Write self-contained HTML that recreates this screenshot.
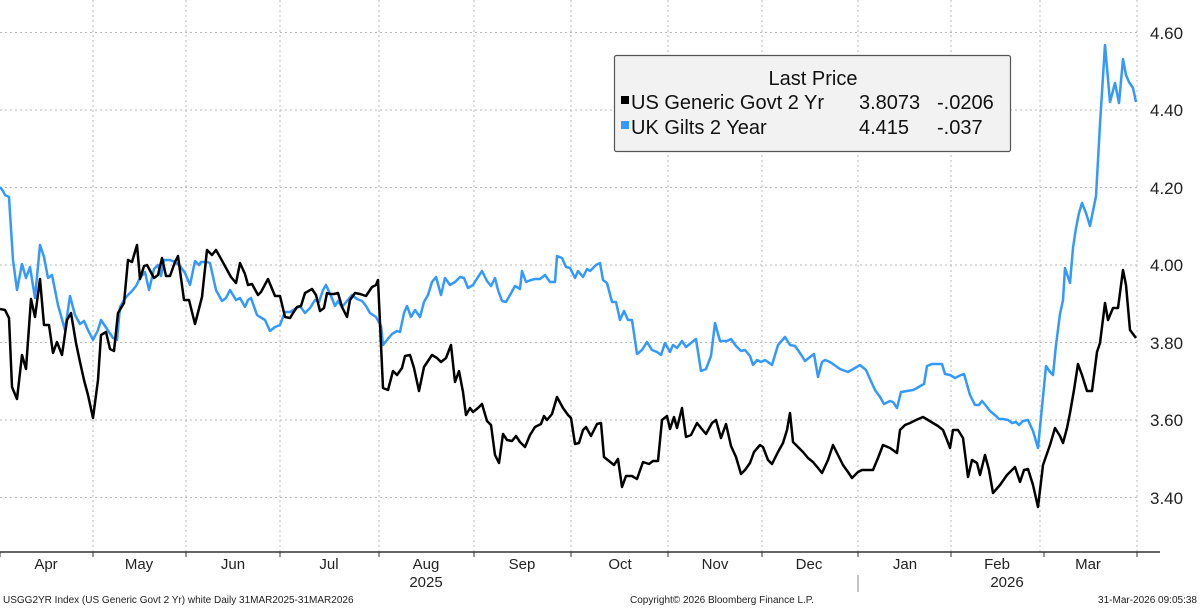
<!DOCTYPE html><html><head><meta charset="utf-8"><style>body{margin:0;background:#fff;width:1200px;height:608px;overflow:hidden}svg{display:block}text{font-family:"Liberation Sans","DejaVu Sans",sans-serif}</style></head><body>
<svg width="1200" height="608" viewBox="0 0 1200 608" xmlns="http://www.w3.org/2000/svg">
<g stroke="#b8b8b8" stroke-width="1" stroke-dasharray="2,3" fill="none">
<path d="M0 32.5H1140M0 110H1140M0 187.5H1140M0 265H1140M0 342.5H1140M0 420H1140M0 497.5H1140"/>
<path d="M93 0V552M186 0V552M280 0V552M379 0V552M474 0V552M571 0V552M668 0V552M762 0V552M858 0V552M951 0V552M1040 0V552M1137 0V552"/>
</g>
<path d="M0 552H1160" stroke="#333" stroke-width="1.5"/>
<path d="M0 552v5M93 552v5M186 552v5M280 552v5M379 552v5M474 552v5M571 552v5M668 552v5M762 552v5M858 552v5M951 552v5M1044 552v5M1137 552v5" stroke="#333" stroke-width="1"/>
<path d="M858 575V592" stroke="#888"/>
<g font-size="17" fill="#222">
<text x="1150" y="39">4.60</text><text x="1150" y="116">4.40</text><text x="1150" y="194">4.20</text><text x="1150" y="271">4.00</text><text x="1150" y="349">3.80</text><text x="1150" y="426">3.60</text><text x="1150" y="504">3.40</text>
</g>
<g font-size="15" fill="#222" text-anchor="middle">
<text x="46" y="569">Apr</text><text x="139" y="569">May</text><text x="233" y="569">Jun</text><text x="329" y="569">Jul</text><text x="426" y="569">Aug</text><text x="522" y="569">Sep</text><text x="620" y="569">Oct</text><text x="715" y="569">Nov</text><text x="809" y="569">Dec</text><text x="905" y="569">Jan</text><text x="997" y="569">Feb</text><text x="1088" y="569">Mar</text>
<text x="426" y="587">2025</text><text x="1007" y="587">2026</text>
</g>
<g font-size="10" fill="#222">
<text x="3" y="603">USGG2YR Index (US Generic Govt 2 Yr) white Daily 31MAR2025-31MAR2026</text>
<text x="630" y="603">Copyright© 2026 Bloomberg Finance L.P.</text>
<text x="1197" y="603" text-anchor="end">31-Mar-2026 09:05:38</text>
</g>
<polyline fill="none" stroke="#3399ff" stroke-width="2.5" stroke-linejoin="round" points="0,187 3,191 5,195 9,197 13,260 17,290 22,264 26,278 30,267 35,298 40,245 44,257 48,278 52,275 58,305 65,330 70,296 75,315 80,324 84,321 88,330 93,340 98,330 101,320 107,329 113,338 117,340 120,307 124,300 127,296 132,291 136,286 140,278 145,272 149,290 154,269 158,265 161,276 164,260 170,260 175,262 180,266 185,273 190,285 195,261 199,265 201,262 207,262 210,263 216,290 222,301 226,298 230,290 236,300 240,298 245,307 248,300 251,298 257,315 260,317 265,320 270,331 275,327 280,325 285,312 290,312 295,309 300,306 305,313 310,308 315,300 319,302 323,290 326,285 331,296 335,306 338,301 342,307 347,301 352,295 357,299 362,301 366,306 370,313 376,317 381,326 383,345 387,340 392,334 397,331 400,332 404,313 407,306 411,317 415,310 420,317 424,302 428,295 432,282 436,277 441,295 445,278 450,285 455,282 460,277 464,278 468,288 473,285 478,277 482,271 487,281 491,286 495,278 498,290 502,301 506,302 510,295 515,286 520,289 522,271 526,282 531,280 535,279 540,279 545,275 550,282 555,282 557,256 562,258 566,267 570,268 575,278 578,271 583,277 587,269 590,271 596,265 600,263 603,280 607,283 612,302 616,302 620,320 624,311 628,320 632,320 637,354 642,350 647,342 652,350 657,352 661,355 665,343 670,352 673,345 677,348 682,341 686,347 691,343 696,339 701,371 706,369 711,356 715,323 720,341 727,341 731,339 736,346 741,351 745,350 750,356 753,365 757,360 761,362 765,360 768,362 772,365 778,345 785,337 790,345 795,346 800,353 805,361 810,357 814,354 818,377 822,362 825,360 830,362 840,369 848,372 855,368 860,365 866,370 870,379 875,390 880,397 884,404 890,401 893,402 897,408 901,392 907,391 913,390 917,388 922,385 924,384 927,366 932,364 942,364 945,374 950,375 955,378 961,375 964,374 970,395 975,405 979,405 982,401 987,407 990,411 996,416 999,419 1003,419 1008,420 1012,423 1016,422 1019,425 1023,421 1028,420 1033,431 1038,448 1046,366 1050,372 1053,375 1056,345 1060,314 1063,300 1065,268 1070,283 1073,248 1076,228 1079,213 1082,203 1086,213 1090,226 1096,196 1100,124 1105,45 1110,102 1115,83 1119,103 1123,59 1126,75 1129,82 1133,88 1136,102"/>
<polyline fill="none" stroke="#000" stroke-width="2.5" stroke-linejoin="round" points="0,309 5,310 9,318 12,387 17,399 22,355 26,369 31,299 35,317 40,279 44,325 49,325 53,353 57,342 62,355 67,320 71,313 76,343 80,362 84,380 88,395 93,418 98,380 101,335 106,332 110,349 114,351 118,313 124,303 128,260 132,262 137,245 140,279 144,266 147,265 154,278 158,275 162,258 166,276 170,276 175,262 178,256 184,300 189,300 195,324 202,297 207,250 212,255 216,250 220,257 226,268 231,277 236,283 240,263 245,274 248,285 252,284 258,295 261,292 268,279 275,296 280,296 285,317 290,318 293,313 297,307 301,306 305,293 312,289 316,295 320,311 324,308 327,293 330,294 334,294 338,293 342,307 347,317 350,300 355,293 360,294 366,296 372,287 376,285 378,280 383,388 388,390 393,371 397,375 402,368 405,356 410,355 414,368 419,391 424,367 432,355 437,358 441,362 446,358 451,345 455,382 459,371 463,392 466,415 470,408 473,412 478,408 482,404 487,421 491,425 495,455 499,463 503,434 507,440 512,441 516,436 520,442 525,447 530,435 535,427 541,424 544,416 547,420 552,414 557,397 563,408 568,415 571,418 575,444 579,443 583,430 586,427 591,436 597,424 601,423 604,457 609,461 614,465 618,459 622,487 626,476 632,476 637,479 643,462 649,464 653,461 658,461 662,420 667,416 670,429 674,417 677,428 682,408 686,437 691,435 697,423 701,428 706,434 712,423 716,420 721,438 726,424 731,446 736,457 741,474 745,470 750,463 754,452 760,445 763,447 768,460 772,464 778,452 783,443 787,430 790,413 793,442 798,447 803,452 808,458 813,462 818,468 822,473 828,460 833,445 838,455 843,465 848,472 852,478 858,472 862,470 868,470 873,470 878,458 883,445 890,448 897,453 900,430 905,425 910,423 916,420 923,417 928,420 933,423 938,426 943,430 947,440 950,448 953,430 958,430 963,438 968,477 972,460 977,463 980,475 985,455 989,470 993,493 1000,485 1007,475 1015,467 1020,482 1024,470 1028,469 1033,485 1038,507 1043,465 1050,445 1055,428 1060,436 1063,443 1067,428 1070,413 1074,390 1078,364 1082,375 1087,391 1092,391 1097,352 1100,343 1105,303 1108,320 1113,308 1118,308 1123,270 1126,285 1130,330 1136,338"/>
<rect x="614.5" y="55.5" width="396" height="96" rx="2" fill="#f2f2f2" stroke="#555" stroke-width="1.2"/>
<text x="813" y="85" font-size="20" text-anchor="middle" fill="#111">Last Price</text>
<rect x="621" y="96" width="8" height="8" fill="#000"/>
<rect x="621" y="121" width="8" height="8" fill="#3399ff"/>
<g font-size="20" fill="#111">
<text x="631" y="109">US Generic Govt 2 Yr</text><text x="859" y="109">3.8073</text><text x="937" y="109">-.0206</text>
<text x="631" y="134">UK Gilts 2 Year</text><text x="859" y="134">4.415</text><text x="937" y="134">-.037</text>
</g>
</svg>
</body></html>
